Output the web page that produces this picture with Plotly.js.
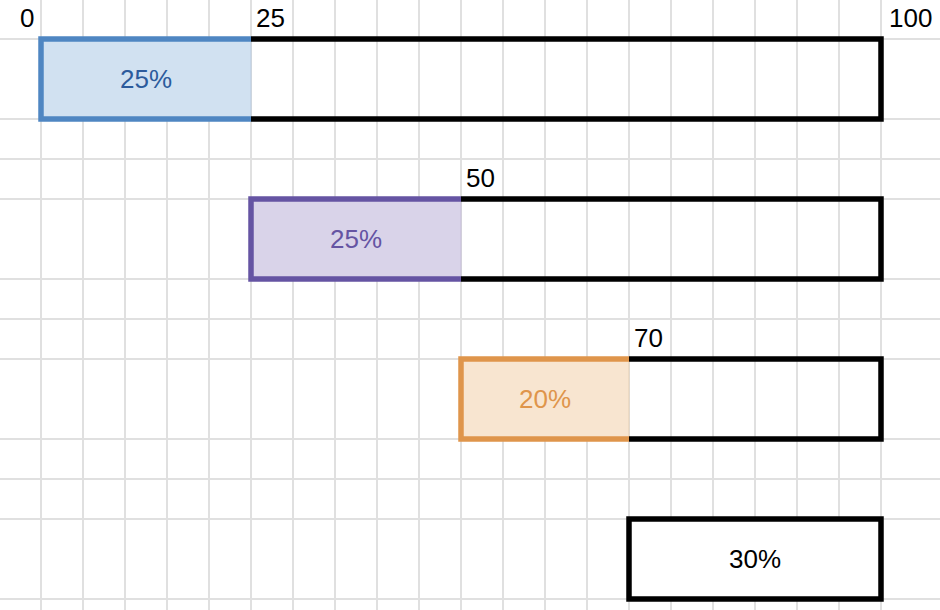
<!DOCTYPE html>
<html>
<head>
<meta charset="utf-8">
<script src="https://cdn.plot.ly/plotly-3.0.1.min.js"></script>
<style>
  html, body { margin: 0; padding: 0; background: #ffffff; }
  #chart { width: 940px; height: 610px; }
</style>
</head>
<body>
<div id="chart"></div>
<script>
// ---- data ----
const steps = ['Step 1', 'Step 2', 'Step 3'];
const stepStart = [0, 25, 50];
const stepShare = [25, 25, 20];
const stepLabels = ['25%', '25%', '20%'];
const remainderStart = [70];
const remainderShare = [30];
const remainderLabel = ['30%'];
const total = 100;
const milestoneValues = [0, 25, 50, 70, 100];
const milestoneLabels = ['0', '25', '50', '70', '100'];
const milestoneRow = [0, 0, 1, 2, 0];
const xGridTicks = [0, 5, 10, 15, 20, 25, 30, 35, 40, 45, 50, 55, 60, 65, 70, 75, 80, 85, 90, 95, 100];

// ---- styles ----
const FONT = 'Arial, "Liberation Sans", Helvetica, sans-serif';
const borderColors = ['#4f86c2', '#6554a3', '#df954b'];
const fillColors = ['#d1e1f1', '#d9d3e9', '#f8e5d0'];
const edgeTints = ['#b9c9dc', '#c4bdd6', '#e3cfb7'];
const textColors = ['#2c5b9c', '#6554a3', '#df954b'];
const HALF = 0.25;      // half bar thickness in row units
const LW = 5.5;
const FS = 26;

const rowIdx = steps.map((_, i) => i);
const remRow = steps.length;
const traces = [];

// coloured fills
traces.push({
  type: 'bar', orientation: 'h',
  y: rowIdx, base: stepStart, x: stepShare, width: 2 * HALF,
  marker: { color: fillColors, line: { color: edgeTints, width: 1 } },
  text: stepLabels, textposition: 'inside', insidetextanchor: 'middle',
  textangle: 0, constraintext: 'none',
  insidetextfont: { family: FONT, size: FS, color: textColors },
  hoverinfo: 'skip', showlegend: false
});

// remainder box (last row)
traces.push({
  type: 'bar', orientation: 'h',
  y: [remRow], base: remainderStart, x: remainderShare, width: 2 * HALF,
  marker: { color: '#ffffff', line: { color: '#000000', width: LW } },
  text: remainderLabel, textposition: 'inside', insidetextanchor: 'middle',
  textangle: 0, constraintext: 'none',
  insidetextfont: { family: FONT, size: FS, color: '#000000' },
  hoverinfo: 'skip', showlegend: false
});

// coloured borders (left, top, bottom)
steps.forEach((s, i) => {
  const a = stepStart[i], b = stepStart[i] + stepShare[i];
  traces.push({
    type: 'scatter', mode: 'lines',
    x: [b, a, a, b],
    y: [i - HALF, i - HALF, i + HALF, i + HALF],
    line: { color: borderColors[i], width: LW },
    hoverinfo: 'skip', showlegend: false
  });
});

// black outline of the rest of each row
const ox = [], oy = [];
steps.forEach((s, i) => {
  const b = stepStart[i] + stepShare[i];
  ox.push(b, total, total, b, null);
  oy.push(i - HALF, i - HALF, i + HALF, i + HALF, null);
});
traces.push({
  type: 'scatter', mode: 'lines', x: ox, y: oy,
  line: { color: '#000000', width: LW },
  hoverinfo: 'skip', showlegend: false
});

// milestone labels
const annotations = milestoneValues.map((v, i) => ({
  x: v, y: milestoneRow[i] - HALF, xref: 'x', yref: 'y',
  text: milestoneLabels[i], showarrow: false,
  xanchor: v === 0 ? 'right' : 'left', yanchor: 'middle',
  xshift: v === 0 ? -5 : (v === total ? 6 : 3), yshift: 21,
  font: { family: FONT, size: FS, color: '#000000' }
}));

// y grid: every quarter row except at row centres
const yGrid = [-0.25, 0.25, 0.5, 0.75, 1.25, 1.5, 1.75, 2.25, 2.5, 2.75, 3.25];

const layout = {
  width: 940, height: 610,
  margin: { l: 0, r: 0, t: 0, b: 0, pad: 0 },
  paper_bgcolor: '#ffffff', plot_bgcolor: '#ffffff',
  barmode: 'overlay',
  showlegend: false,
  xaxis: {
    range: [-41 / 8.4, (940 - 41) / 8.4],
    tickmode: 'array', tickvals: xGridTicks,
    showticklabels: false, ticks: '',
    showgrid: true, gridcolor: '#e0e0e0', gridwidth: 1.5,
    zeroline: false, showline: false, fixedrange: true
  },
  yaxis: {
    range: [(610 - 79) / 160, -79 / 160],
    tickmode: 'array', tickvals: yGrid,
    showticklabels: false, ticks: '',
    showgrid: true, gridcolor: '#e0e0e0', gridwidth: 1.5,
    zeroline: false, showline: false, fixedrange: true
  },
  annotations: annotations,
  font: { family: FONT }
};

Plotly.newPlot('chart', traces, layout, { displayModeBar: false, staticPlot: true });
</script>
</body>
</html>
